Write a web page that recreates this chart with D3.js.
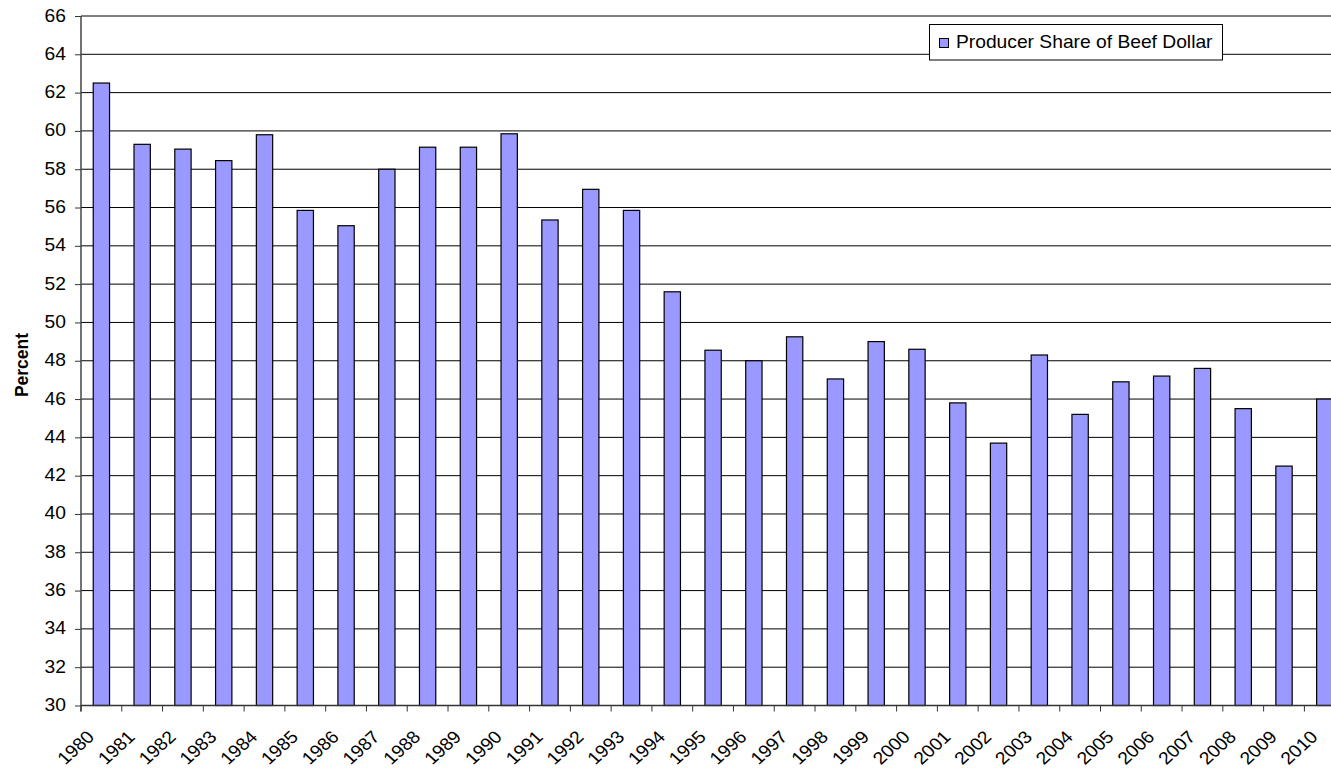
<!DOCTYPE html>
<html>
<head>
<meta charset="utf-8">
<script src="https://cdn.jsdelivr.net/npm/d3@7"></script>
<style>
  html, body { margin: 0; padding: 0; background: #fff; }
  svg { display: block; overflow: hidden; }
  text { font-family: "Liberation Sans", Arial, sans-serif; fill: #000; }
</style>
</head>
<body>
<svg id="chart" width="1331" height="768"></svg>
<script>
// Producer share of the retail beef dollar, 1980–2010 (percent)
const years = ["1980","1981","1982","1983","1984","1985","1986","1987","1988","1989",
               "1990","1991","1992","1993","1994","1995","1996","1997","1998","1999",
               "2000","2001","2002","2003","2004","2005","2006","2007","2008","2009","2010"];
const producerShare = [62.5, 59.3, 59.05, 58.45, 59.8, 55.85, 55.05, 58.0, 59.15, 59.15,
                       59.85, 55.35, 56.95, 55.85, 51.6, 48.55, 48.0, 49.25, 47.05, 49.0,
                       48.6, 45.8, 43.7, 48.3, 45.2, 46.9, 47.2, 47.6, 45.5, 42.5, 46.0];
const yTicks = [30, 32, 34, 36, 38, 40, 42, 44, 46, 48, 50, 52, 54, 56, 58, 60, 62, 64, 66];
const seriesName = "Producer Share of Beef Dollar";
const yTitle = "Percent";

const svg = d3.select("#chart");
const plotLeft = 81, plotTop = 16, plotBottom = 705.5, bandStep = 40.78;
const plotRight = plotLeft + bandStep * years.length;
const fontSize = 17.5, stretch = 1.1;

const x = d3.scaleBand().domain(years).range([plotLeft, plotRight])
  .paddingInner(0.6).paddingOuter(0.3);
const xEdge = d3.scaleLinear().domain([0, years.length]).range([plotLeft, plotRight]);
const y = d3.scaleLinear().domain([30, 66]).range([plotBottom, plotTop]);

// horizontal gridlines
svg.append("g").selectAll("line").data(yTicks.slice(1)).join("line")
  .attr("x1", plotLeft).attr("x2", plotRight)
  .attr("y1", d => y(d)).attr("y2", d => y(d))
  .attr("stroke", "#000").attr("stroke-width", 1);

// bars
svg.append("g").selectAll("rect").data(producerShare).join("rect")
  .attr("x", (d, i) => x(years[i]))
  .attr("width", x.bandwidth())
  .attr("y", d => y(d))
  .attr("height", d => y(30) - y(d))
  .attr("fill", "#9999ff").attr("stroke", "#000").attr("stroke-width", 1.2);

// y axis tick marks
const yAxis = svg.append("g").attr("transform", `translate(${plotLeft},0)`)
  .call(d3.axisLeft(y).tickValues(yTicks).tickSize(6).tickFormat(d3.format("d")));
yAxis.select(".domain").remove();
yAxis.selectAll(".tick line").attr("stroke", "#333");
yAxis.selectAll(".tick text").remove();
svg.append("line").attr("x1", plotLeft).attr("x2", plotLeft)
  .attr("y1", plotTop).attr("y2", plotBottom + 6)
  .attr("stroke", "#444").attr("stroke-width", 1.5);
svg.append("g").selectAll("text").data(yTicks).join("text")
  .attr("transform", d => `translate(66,${y(d) + 5.5}) scale(${stretch},1)`)
  .attr("text-anchor", "end").attr("font-size", fontSize)
  .text(d => d);

// x axis baseline and tick marks at category boundaries
svg.append("line").attr("x1", plotLeft).attr("x2", plotRight)
  .attr("y1", plotBottom).attr("y2", plotBottom)
  .attr("stroke", "#333").attr("stroke-width", 1.5);
svg.append("g").selectAll("line").data(d3.range(years.length + 1)).join("line")
  .attr("x1", d => xEdge(d)).attr("x2", d => xEdge(d))
  .attr("y1", plotBottom).attr("y2", plotBottom + 6)
  .attr("stroke", "#333").attr("stroke-width", 1);

// rotated year labels
svg.append("g").selectAll("text").data(years).join("text")
  .attr("transform", d => `translate(${x(d) + x.bandwidth() / 2 - 6},738) scale(${stretch},1) rotate(-45)`)
  .attr("text-anchor", "end").attr("font-size", fontSize)
  .text(d => d);

// y axis title
svg.append("text")
  .attr("transform", `translate(28,365) scale(${stretch},1) rotate(-90)`)
  .attr("text-anchor", "middle").attr("font-size", fontSize).attr("font-weight", "bold")
  .text(yTitle);

// legend
const legend = svg.append("g");
legend.append("rect").attr("x", 929.5).attr("y", 24.5).attr("width", 293).attr("height", 35.5)
  .attr("fill", "#fff").attr("stroke", "#000").attr("stroke-width", 1);
legend.append("rect").attr("x", 939.5).attr("y", 38.5).attr("width", 9).attr("height", 9)
  .attr("fill", "#9999ff").attr("stroke", "#000").attr("stroke-width", 1);
legend.append("text")
  .attr("transform", `translate(956,48) scale(${stretch},1)`)
  .attr("font-size", fontSize)
  .text(seriesName);
</script>
</body>
</html>
